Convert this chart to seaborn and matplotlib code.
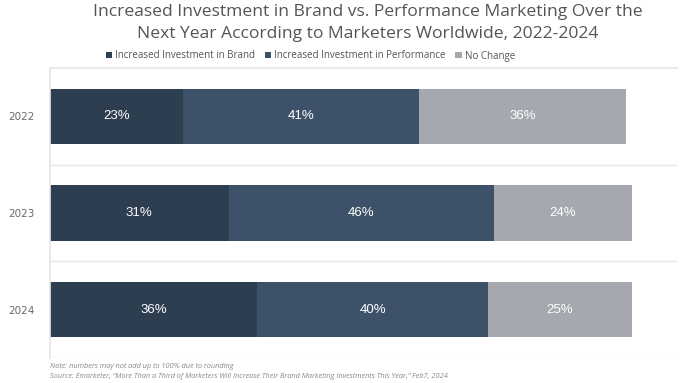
import matplotlib.pyplot as plt
import numpy as np
import pandas as pd
import seaborn as sns

years = ["2022", "2023", "2024"]
brand = [23, 31, 36]
performance = [41, 46, 40]
no_change = [36, 24, 25]
series_names = ["Increased Investment in Brand", "Increased Investment in Performance", "No Change"]
colors = ["#2c3e50", "#3d5268", "#a5a8af"]

title = ("Increased Investment in Brand vs. Performance Marketing Over the\n"
         "Next Year According to Marketers Worldwide, 2022-2024")
note = "Note: numbers may not add up to 100% due to rounding"
source = ("Source: Emarketer, \u201cMore Than a Third of Marketers Will Increase Their "
          "Brand Marketing Investments This Year,\u201d Feb7, 2024")


def main():
    sns.set_theme(style="white")
    plt.rcParams["font.family"] = ["Open Sans", "DejaVu Sans"]

    df = pd.DataFrame({"year": years, "brand": brand,
                       "performance": performance, "no_change": no_change})
    values = df[["brand", "performance", "no_change"]].to_numpy()
    cum = np.cumsum(values, axis=1)

    fig = plt.figure(figsize=(6.8, 3.83), dpi=100)
    ax = fig.add_axes([50 / 680, 1 - 358 / 383, 627 / 680, 290 / 383])

    # stacked bars: draw cumulative totals from the largest down
    for i in reversed(range(3)):
        sns.barplot(x=cum[:, i], y=df["year"], orient="h", color=colors[i],
                    width=0.57, ax=ax, label=series_names[i], saturation=1,
                    linewidth=0, edgecolor="none")

    for r in range(len(years)):
        starts = cum[r] - values[r]
        for i in range(3):
            ax.text(starts[i] + values[r, i] / 2, r, f"{values[r, i]}%",
                    ha="center", va="center", color="white", fontsize=9.5,
                    family="Liberation Sans")

    ax.set_xlim(0, 108.8)
    ax.set_ylim(2.5, -0.5)
    ax.set_xticks([])
    ax.set_xlabel("")
    ax.set_ylabel("")
    ax.tick_params(axis="y", length=0, pad=11, labelsize=7.5, labelcolor="#6b6b6b")
    for lbl in ax.get_yticklabels():
        lbl.set_fontfamily("DejaVu Sans")
    for y in [0.5, 1.5, 2.5]:
        ax.axhline(y, color="#e6e6e6", lw=1)
    for s in ["right", "bottom"]:
        ax.spines[s].set_visible(False)
    ax.spines["top"].set_color("#e6e6e6")
    ax.spines["left"].set_color("#e6e6e6")

    handles, labels = ax.get_legend_handles_labels()
    order = [labels.index(n) for n in series_names]
    fig.legend([handles[i] for i in order], series_names, loc="center left",
               bbox_to_anchor=(106 / 680, 1 - 56 / 383), ncol=3, frameon=False,
               fontsize=7, labelcolor="#555555", borderaxespad=0, borderpad=0,
               handlelength=0.65, handleheight=0.65, handletextpad=0.3,
               columnspacing=1.0)
    if ax.get_legend():
        ax.get_legend().remove()

    fig.text(368 / 680, 1 - 23 / 383, title, ha="center", va="center",
             fontsize=12.6, color="#555555", linespacing=1.45)
    fig.text(50 / 680, 1 - 367 / 383, note, fontsize=5.3, color="#888888",
             style="italic", va="center")
    fig.text(50 / 680, 1 - 377 / 383, source, fontsize=5.3, color="#888888",
             style="italic", va="center")

    fig.savefig("out.png", dpi=100)
    plt.close()


if __name__ == "__main__":
    main()
